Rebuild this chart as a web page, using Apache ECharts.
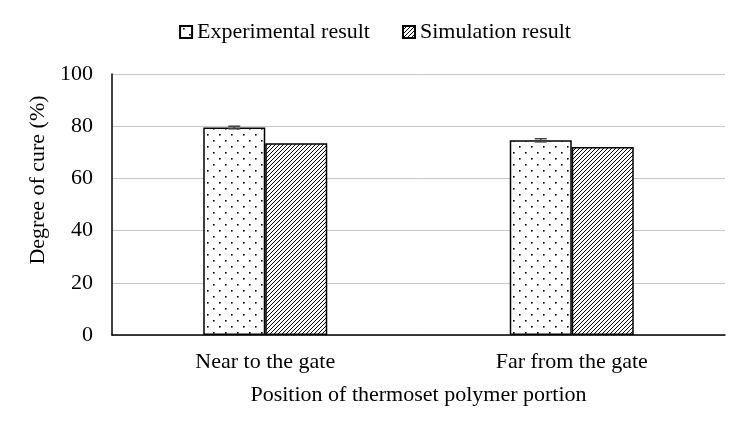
<!DOCTYPE html>
<html><head><meta charset="utf-8">
<script src="https://cdn.jsdelivr.net/npm/echarts@6/dist/echarts.min.js"></script>
<style>html,body{margin:0;padding:0;background:#fff}#c{width:750px;height:433px}</style>
</head><body><div id="c"></div>
<script>
const categories = ['Near to the gate', 'Far from the gate'];
const experimental = [79.5, 74.6];
const experimentalErr = [0.5, 0.6];
const simulation = [73.5, 72.0];
const yTicks = [0, 20, 40, 60, 80, 100];
const yTitle = 'Degree of cure (%)';
const xTitle = 'Position of thermoset polymer portion';

function dotPattern() {
  const c = document.createElement('canvas');
  c.width = 12; c.height = 12;
  const g = c.getContext('2d');
  g.fillStyle = '#fff'; g.fillRect(0, 0, 12, 12);
  g.fillStyle = '#000';
  g.fillRect(3, 2, 1.6, 1.6);
  g.fillRect(9, 8, 1.6, 1.6);
  return c;
}
function hatchPattern() {
  const s = 4;
  const c = document.createElement('canvas');
  c.width = s; c.height = s;
  const g = c.getContext('2d');
  g.fillStyle = '#fff'; g.fillRect(0, 0, s, s);
  g.strokeStyle = '#000'; g.lineWidth = 1.0;
  g.beginPath();
  g.moveTo(0, s); g.lineTo(s, 0);
  g.moveTo(-1, 1); g.lineTo(1, -1);
  g.moveTo(s - 1, s + 1); g.lineTo(s + 1, s - 1);
  g.stroke();
  return c;
}

const font = '"Liberation Serif", "Times New Roman", serif';
const fs = 22;
const chart = echarts.init(document.getElementById('c'));
chart.setOption({
  animation: false,
  backgroundColor: '#fff',
  textStyle: { fontFamily: font },
  legend: {
    top: 16, left: 'center', itemWidth: 12, itemHeight: 12, itemGap: 32, icon: 'rect',
    textStyle: { fontFamily: font, fontSize: fs, color: '#000' },
    data: ['Experimental result', 'Simulation result']
  },
  graphic: [{
    type: 'text', x: 38, y: 180, rotation: Math.PI / 2,
    style: { text: yTitle, font: fs + 'px ' + font, fill: '#000', textAlign: 'center', textVerticalAlign: 'middle' }
  }],
  grid: { left: 112, right: 25, top: 74, bottom: 98 },
  xAxis: {
    type: 'category', data: categories,
    axisLine: { lineStyle: { color: '#000', width: 1.5 } },
    axisTick: { show: false },
    axisLabel: { fontFamily: font, fontSize: fs, color: '#000', margin: 16 },
    name: xTitle, nameLocation: 'middle', nameGap: 49,
    nameTextStyle: { fontFamily: font, fontSize: fs, color: '#000' }
  },
  yAxis: {
    type: 'value', min: 0, max: 100, interval: 20,
    axisLine: { show: true, lineStyle: { color: '#000', width: 1.5 } },
    axisTick: { show: false },
    splitLine: { lineStyle: { color: '#c8c8c8', width: 1 } },
    axisLabel: { fontFamily: font, fontSize: fs, color: '#000', margin: 19,
      formatter: v => yTicks.includes(v) ? String(v) : '' }
  },
  series: [
    {
      name: 'Experimental result', type: 'bar', data: experimental,
      barWidth: 62, barGap: '0%',
      itemStyle: { color: { image: dotPattern(), repeat: 'repeat' }, borderColor: '#000', borderWidth: 1.5 }
    },
    {
      name: 'Simulation result', type: 'bar', data: simulation,
      barWidth: 62, barGap: '0%',
      itemStyle: { color: { image: hatchPattern(), repeat: 'repeat' }, borderColor: '#000', borderWidth: 1.5 }
    },
    {
      type: 'custom', name: 'err', z: 10,
      data: experimental.map((v, i) => [i, v - experimentalErr[i], v + experimentalErr[i]]),
      renderItem: function (params, api) {
        const i = api.value(0);
        const lo = api.coord([i, api.value(1)]);
        const hi = api.coord([i, api.value(2)]);
        const x = lo[0] - 31;
        const hw = 6;
        const st = { stroke: '#444', lineWidth: 1.5 };
        return { type: 'group', children: [
          { type: 'line', shape: { x1: x, y1: lo[1], x2: x, y2: hi[1] }, style: st },
          { type: 'line', shape: { x1: x - hw, y1: lo[1], x2: x + hw, y2: lo[1] }, style: st },
          { type: 'line', shape: { x1: x - hw, y1: hi[1], x2: x + hw, y2: hi[1] }, style: st }
        ]};
      }
    }
  ]
});
</script>
</body></html>
